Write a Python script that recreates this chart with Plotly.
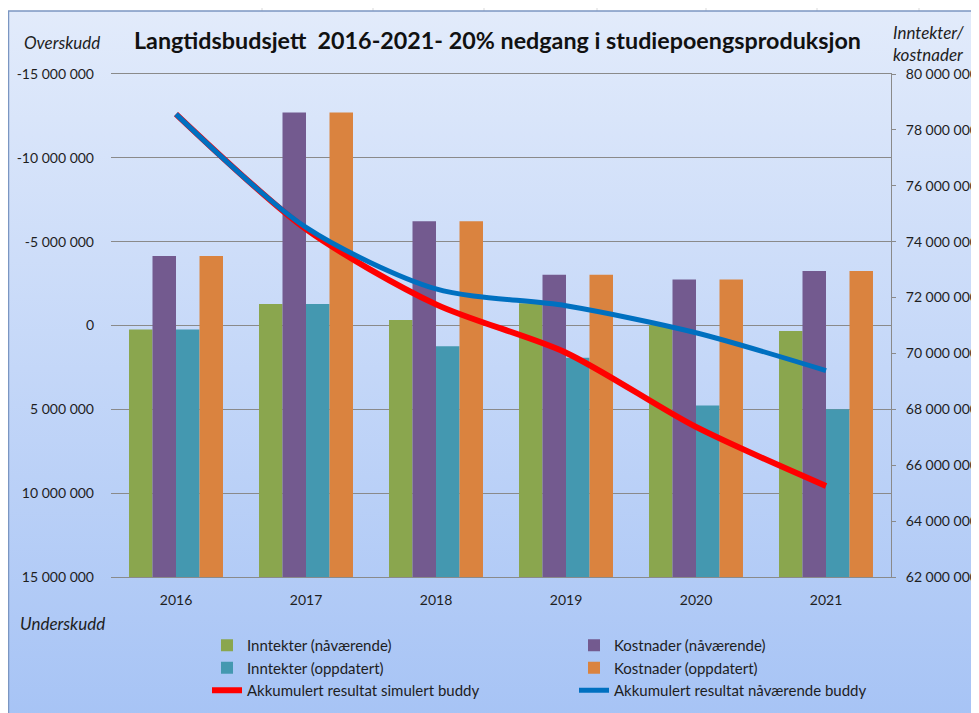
import base64
import plotly.graph_objects as go

# ---------------- data ----------------
years = ["2016", "2017", "2018", "2019", "2020", "2021"]

inntekter_naavaerende = [70_860_000, 71_770_000, 71_200_000, 71_800_000, 71_020_000, 70_800_000]
kostnader_naavaerende = [73_490_000, 78_620_000, 74_730_000, 72_820_000, 72_650_000, 72_950_000]
inntekter_oppdatert = [70_860_000, 71_770_000, 70_260_000, 69_850_000, 68_140_000, 68_000_000]
kostnader_oppdatert = [73_490_000, 78_620_000, 74_730_000, 72_820_000, 72_650_000, 72_950_000]

akk_simulert = [-12_610_000, -5_750_000, -1_260_000, 1_620_000, 6_050_000, 9_570_000]
akk_naavaerende = [-12_610_000, -5_850_000, -2_180_000, -1_180_000, 430_000, 2_690_000]

left_ticks = [-15_000_000, -10_000_000, -5_000_000, 0, 5_000_000, 10_000_000, 15_000_000]
right_ticks = [62_000_000, 64_000_000, 66_000_000, 68_000_000, 70_000_000,
               72_000_000, 74_000_000, 76_000_000, 78_000_000, 80_000_000]


def fmt(v):
    s = f"{abs(v):,}".replace(",", " ")
    return ("-" if v < 0 else "") + s


left_text = [fmt(v) for v in left_ticks]
right_text = [fmt(v) for v in right_ticks]

# ---------------- layout geometry ----------------
# page body has an 8px margin, so the figure is offset by OFF px on the page
OFF = 8
PAGE_W, PAGE_H = 979, 713
W, H = PAGE_W, PAGE_H          # figure runs past the viewport edge like the reference
# plot area in page pixels
L, R, T, B = 111, 891, 74, 577
PW, PH = R - L, B - T


def px(x):
    return (x - L) / PW


def py(y):
    return (B - y) / PH


def cy(y):  # container y from page pixel
    return 1 - (y - OFF) / H


def cx(x):
    return (x - OFF) / W


FONT = "Lato, Carlito, Calibri, sans-serif"
GREEN, PURPLE, TEAL, ORANGE = "#8AA64E", "#735A8F", "#4498B0", "#DA833F"
GRID = "#8a8a8a"
TXT = "#1e1e1e"

fig = go.Figure()

bar_specs = [
    ("Inntekter (nåværende)", inntekter_naavaerende, GREEN, "legend"),
    ("Kostnader (nåværende)", kostnader_naavaerende, PURPLE, "legend2"),
    ("Inntekter (oppdatert)", inntekter_oppdatert, TEAL, "legend"),
    ("Kostnader (oppdatert)", kostnader_oppdatert, ORANGE, "legend2"),
]
for name, vals, col, lg in bar_specs:
    fig.add_trace(go.Bar(
        x=years, y=vals, name=name, marker=dict(color=col, line=dict(width=0)),
        yaxis="y", legend=lg,
    ))

fig.add_trace(go.Scatter(
    x=years, y=akk_simulert, name="Akkumulert resultat simulert buddy",
    mode="lines", line=dict(color="#FF0000", width=6, shape="spline", smoothing=0.8),
    yaxis="y2", legend="legend",
))
fig.add_trace(go.Scatter(
    x=years, y=akk_naavaerende, name="Akkumulert resultat nåværende buddy",
    mode="lines", line=dict(color="#0070C0", width=5, shape="spline", smoothing=0.8),
    yaxis="y2", legend="legend2",
))

svg = ('<svg xmlns="http://www.w3.org/2000/svg" width="100" height="100" viewBox="0 0 100 100" '
       'preserveAspectRatio="none"><defs><linearGradient id="g" x1="0" y1="0" x2="0" y2="1">'
       '<stop offset="0" stop-color="#E2EBFB"/><stop offset="1" stop-color="#A6C3F5"/>'
       '</linearGradient></defs><rect width="100" height="100" fill="url(#g)"/></svg>')
src = "data:image/svg+xml;base64," + base64.b64encode(svg.encode()).decode()

legend_common = dict(
    orientation="v", yanchor="top", xanchor="left", bgcolor="rgba(0,0,0,0)",
    font=dict(family=FONT, size=15, color=TXT), tracegroupgap=0,
    itemwidth=30, traceorder="normal", xref="container", yref="container",
)

TICKFONT = dict(family=FONT, size=14, color=TXT)

fig.update_layout(
    width=W, height=H,
    margin=dict(l=L - OFF, r=W - (R - OFF), t=T - OFF, b=H - (B - OFF), pad=0,
                autoexpand=False),
    paper_bgcolor="white", plot_bgcolor="white",
    font=dict(family=FONT, size=15, color=TXT),
    barmode="group", bargap=0.277, bargroupgap=0,
    showlegend=True,
    legend=dict(x=cx(207), y=cy(629), **legend_common),
    legend2=dict(x=cx(574), y=cy(629), **legend_common),
    xaxis=dict(
        type="category", showline=True, linecolor=GRID, linewidth=1, mirror=True,
        showgrid=False, ticks="", ticklabelstandoff=10, automargin=False,
        tickfont=TICKFONT,
    ),
    yaxis=dict(
        side="right", range=[62_000_000, 80_000_000], showgrid=False, zeroline=False,
        showline=True, linecolor=GRID, linewidth=1, ticks="outside", ticklen=4,
        tickcolor=GRID, tickvals=right_ticks, ticktext=right_text, automargin=False,
        ticklabelstandoff=7, tickfont=TICKFONT,
    ),
    yaxis2=dict(
        side="left", overlaying="y", range=[15_000_000, -15_000_000],
        showgrid=True, gridcolor=GRID, gridwidth=1, zeroline=False, showline=False,
        ticks="", tickvals=left_ticks, ticktext=left_text, ticklabelstandoff=16,
        automargin=False, tickfont=TICKFONT,
    ),
    images=[dict(
        source=src, xref="paper", yref="paper", x=px(7), y=py(11),
        sizex=px(PAGE_W + OFF + 5) - px(7), sizey=py(11) - py(PAGE_H + OFF + 5),
        xanchor="left", yanchor="top", sizing="stretch", layer="below",
    )],
)

# spreadsheet cell lines above the chart + chart border
shapes = []
for gx in [262, 373, 484, 597, 706, 817, 919]:
    shapes.append(dict(type="line", xref="paper", yref="paper", x0=px(gx), x1=px(gx),
                       y0=py(OFF), y1=py(11), line=dict(color="#d9d9d9", width=1), layer="below"))
shapes.append(dict(type="line", xref="paper", yref="paper", x0=px(7), x1=px(PAGE_W + OFF + 5),
                   y0=py(11), y1=py(11), line=dict(color="#7b96c2", width=1.5), layer="below"))
shapes.append(dict(type="line", xref="paper", yref="paper", x0=px(8.5), x1=px(8.5),
                   y0=py(11), y1=py(PAGE_H + OFF + 5), line=dict(color="#7b96c2", width=1.5),
                   layer="below"))
fig.update_layout(shapes=shapes)

ann = [
    dict(text="<b>Langtidsbudsjett  2016-2021- 20% nedgang i studiepoengsproduksjon</b>",
         x=px(497), y=py(40), xanchor="center", yanchor="middle",
         font=dict(family=FONT, size=23.3, color="#111")),
    dict(text="<i>Overskudd</i>", x=px(62), y=py(42), xanchor="center", yanchor="middle",
         font=dict(family=FONT, size=17, color=TXT)),
    dict(text="<i>Underskudd</i>", x=px(62), y=py(623), xanchor="center", yanchor="middle",
         font=dict(family=FONT, size=17, color=TXT)),
    dict(text="<i>Inntekter/<br>kostnader</i>", x=px(891), y=py(44), xanchor="left",
         yanchor="middle", align="left",
         font=dict(family=FONT, size=17, color=TXT)),
]
for a in ann:
    a.update(xref="paper", yref="paper", showarrow=False)
fig.update_layout(annotations=ann)

fig.write_html("out.html")
